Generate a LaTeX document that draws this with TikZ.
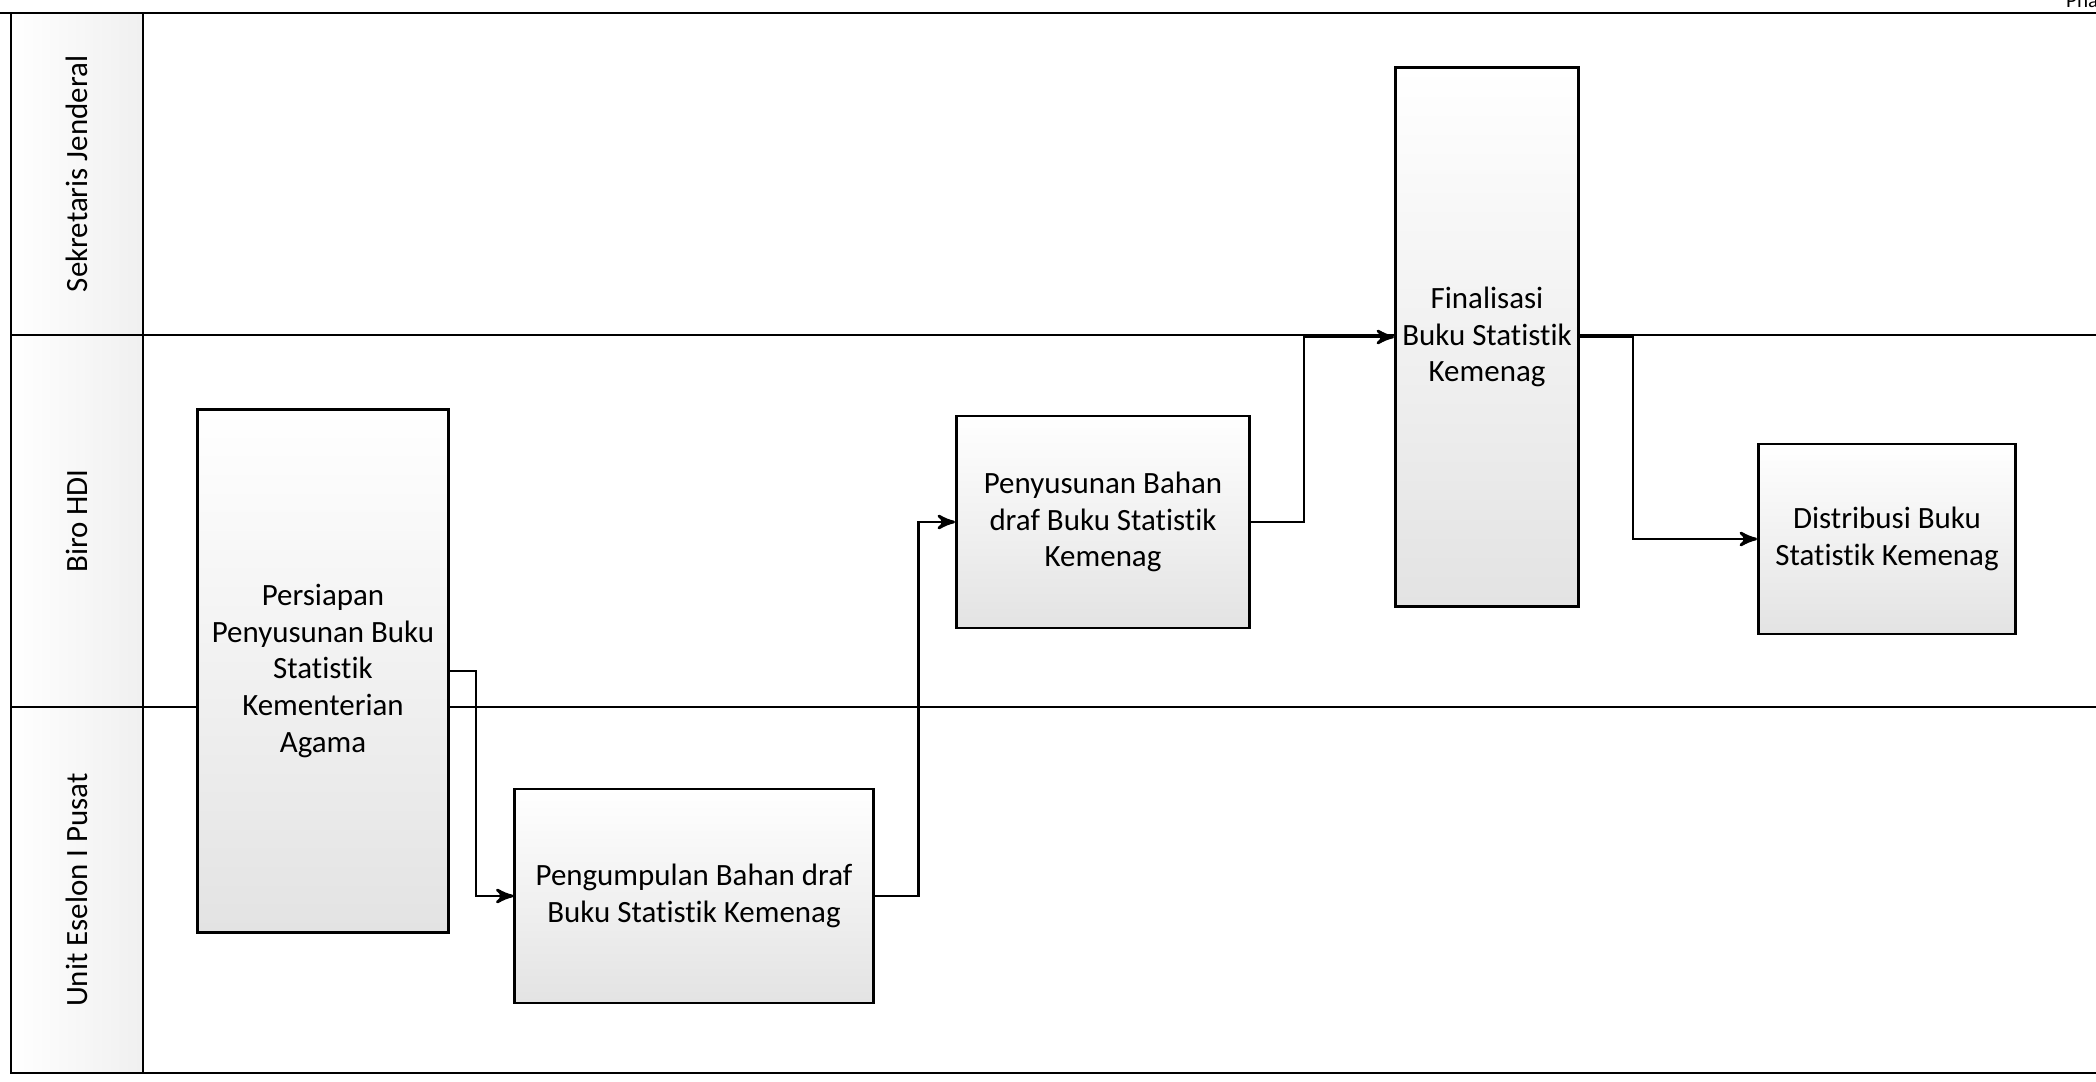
\documentclass[tikz,border=0pt]{standalone}
\usepackage{fontspec}
\setmainfont{Carlito}[Ligatures=NoCommon]
\usetikzlibrary{arrows,positioning}

\begin{document}
\begin{tikzpicture}[
  x=0.01cm, y=-0.01cm,
  every node/.style={font=\fontsize{8.8}{10.4}\selectfont, inner sep=1pt},
  task/.style={draw, line width=0.8pt, top color=white, bottom color=gray!22, align=center},
  lanelabel/.style={rotate=90, anchor=center},
  lanesep/.style={draw, line width=0.8pt},
  flow/.style={draw, ->, >=stealth', line width=0.8pt}
]
\useasboundingbox (0,0) rectangle (2096,1082);

% lanes
\shade[left color=white, right color=gray!12] (11,13) rectangle (143,1073);
\draw[lanesep] (0,13) -- (2096,13);
\draw[lanesep] (11,13) -- (11,1073) -- (2096,1073);
\draw[lanesep] (143,13) -- (143,1073);
\draw[lanesep] (11,335) -- (2096,335);
\draw[lanesep] (11,707) -- (2096,707);
\node[lanelabel] (sekjen) at (77,174) {Sekretaris Jenderal};
\node[lanelabel] (biro) at (77,521) {Biro HDI};
\node[lanelabel] (eselon) at (77,890) {Unit Eselon I Pusat};
\node[anchor=base west, font=\fontsize{6}{7}\selectfont] (phase) at (2062,8) {Phase};

% tasks
\node[task, minimum width=2.51cm, minimum height=5.23cm] (persiapan) at (323,671)
  {Persiapan\\Penyusunan Buku\\Statistik\\Kementerian\\Agama};
\node[task, minimum width=3.58cm, minimum height=2.14cm] (pengumpulan) at (694,896)
  {Pengumpulan Bahan draf\\Buku Statistik Kemenag};
\node[task, minimum width=2.93cm, minimum height=2.12cm] (penyusunan) at (1103,522)
  {Penyusunan Bahan\\draf Buku Statistik\\Kemenag};
\node[task, minimum width=1.83cm, minimum height=5.39cm] (finalisasi) at (1487,337)
  {Finalisasi\\Buku Statistik\\Kemenag};
\node[task, minimum width=2.57cm, minimum height=1.90cm] (distribusi) at (1887,539)
  {Distribusi Buku\\Statistik Kemenag};

% flow
\draw[flow] (persiapan.east) -- ++(26,0) |- (pengumpulan.west);
\draw[flow] (pengumpulan.east) -- ++(44,0) |- (penyusunan.west);
\draw[flow] (penyusunan.east) -- ++(53,0) |- (finalisasi.west);
\draw[flow] (finalisasi.east) -- ++(53,0) |- (distribusi.west);
\end{tikzpicture}
\end{document}
